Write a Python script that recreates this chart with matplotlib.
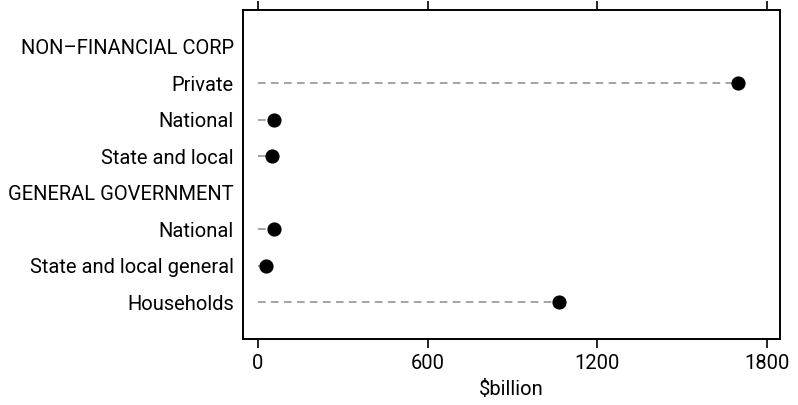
import numpy as np
import matplotlib.pyplot as plt

# rows top to bottom; headers have no value
labels = ["NON\u2013FINANCIAL CORP", "Private", "National", "State and local",
          "GENERAL GOVERNMENT", "National", "State and local general", "Households"]
values = [np.nan, 1697, 57, 48, np.nan, 57, 29, 1065]
xticks = [0, 600, 1200, 1800]

plt.rcParams['font.family'] = ['Roboto', 'DejaVu Sans']

fig = plt.figure(figsize=(7.98, 4.05), dpi=100)
ax = fig.add_axes([0.3045, 0.163, 0.6729, 0.8123])

pos = np.arange(len(labels))
for y, v in zip(pos, values):
    if np.isnan(v):
        continue
    ax.plot([0, v], [y, y], color='#8c8c8c', lw=1.1, dashes=(5, 3.5), zorder=1)
    ax.plot(v, y, 'o', color='black', markersize=9.2, zorder=2)

ax.set_xlim(-53, 1847)
ax.set_ylim(len(labels), -1)
ax.set_yticks(pos)
ax.set_yticklabels(labels, fontsize=14.5)
ax.set_xticks(xticks)
ax.set_xticklabels([str(t) for t in xticks], fontsize=14.5)
ax.tick_params(axis='y', length=0, pad=6.5)
ax.tick_params(axis='x', direction='out', length=6.5, width=1.2, top=True,
               labeltop=False, pad=4)
ax.set_xlabel("$billion", fontsize=14.5, labelpad=5)
for s in ax.spines.values():
    s.set_linewidth(1.4)

fig.savefig("out.png", dpi=100)
